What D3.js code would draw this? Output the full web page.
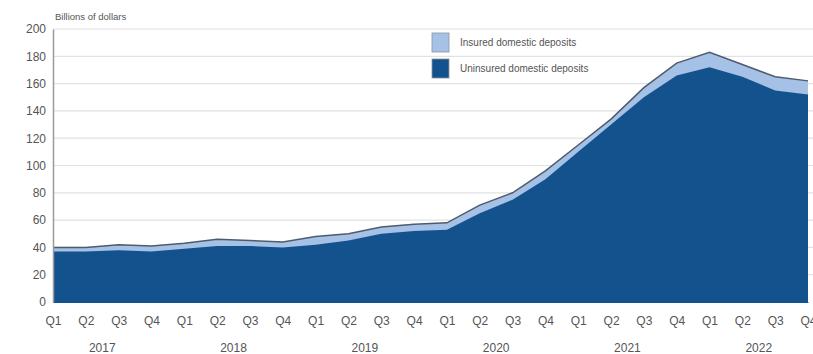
<!DOCTYPE html>
<html>
<head>
<meta charset="utf-8">
<script src="https://cdn.jsdelivr.net/npm/d3@7"></script>
<style>
  body { margin: 0; background: #fff; }
  text { font-family: "Liberation Sans", Arial, sans-serif; fill: #555; }
</style>
</head>
<body>
<svg id="chart" width="813" height="354"></svg>
<script>
// quarters 2017 Q1 .. 2022 Q4
var quarters = ["Q1","Q2","Q3","Q4"]
var years = ["2017","2018","2019","2020","2021","2022"]

// billions of dollars
var uninsured = [37, 37, 38, 37, 39, 41, 41, 40, 42, 45, 50, 52,
                 53, 65, 75, 90, 110, 130, 150, 166, 172, 165, 155, 152]
var total     = [40, 40, 42, 41, 43, 46, 45, 44, 48, 50, 55, 57,
                 58, 71, 80, 96, 115, 134, 157, 175, 183, 174, 165, 162]

var yTicks = [0, 20, 40, 60, 80, 100, 120, 140, 160, 180, 200]

var dimensions = {
    width: 813,
    height: 354,
    margin: { top: 29, bottom: 52, right: 5, left: 53 }
}
dimensions.boundedWidth = dimensions.width - dimensions.margin.right - dimensions.margin.left
dimensions.boundedHeight = dimensions.height - dimensions.margin.top - dimensions.margin.bottom

var dataset = uninsured.map(function (u, i) {
    return { i: i, q: quarters[i % 4], year: years[Math.floor(i / 4)], uninsured: u, total: total[i] }
})

var svg = d3.select("#chart")
var bounds = svg.append("g")
    .attr("transform", "translate(" + dimensions.margin.left + "," + dimensions.margin.top + ")")

var xScale = d3.scaleLinear()
    .domain([0, dataset.length - 1])
    .range([0, dimensions.boundedWidth])

var yScale = d3.scaleLinear()
    .domain([0, 200])
    .range([dimensions.boundedHeight, 0])

// gridlines
bounds.append("g")
    .selectAll("line")
    .data(yTicks.slice(1))
    .enter()
    .append("line")
    .attr("x1", 0)
    .attr("x2", dimensions.boundedWidth + 5)
    .attr("y1", d => yScale(d))
    .attr("y2", d => yScale(d))
    .attr("stroke", "#e2e2e2")
    .attr("stroke-width", 1.2)

// insured (top band) then uninsured on top
var areaTotal = d3.area()
    .x(d => xScale(d.i))
    .y0(yScale(0))
    .y1(d => yScale(d.total))

var areaUninsured = d3.area()
    .x(d => xScale(d.i))
    .y0(yScale(0))
    .y1(d => yScale(d.uninsured))

bounds.append("path")
    .datum(dataset)
    .attr("d", areaTotal)
    .attr("fill", "#a6c1e6")

bounds.append("path")
    .datum(dataset)
    .attr("d", areaUninsured)
    .attr("fill", "#14528e")

bounds.append("path")
    .datum(dataset)
    .attr("d", d3.line().x(d => xScale(d.i)).y(d => yScale(d.total)))
    .attr("fill", "none")
    .attr("stroke", "#4d5b6e")
    .attr("stroke-width", 1.5)

// axes
var yAxis = bounds.append("g")
    .call(d3.axisLeft(yScale).tickValues(yTicks).tickSize(0).tickPadding(7))
yAxis.select(".domain").attr("stroke", "#9a9a9a").attr("stroke-width", 1.5)
yAxis.selectAll("text")
    .style("font-size", "12px")
    .style("fill", "#555")

var xAxis = bounds.append("g")
    .attr("transform", "translate(0," + dimensions.boundedHeight + ")")
    .call(d3.axisBottom(xScale)
        .tickValues(dataset.map(d => d.i))
        .tickFormat(i => quarters[i % 4])
        .tickSize(0)
        .tickPadding(14))
xAxis.select(".domain").attr("stroke", "#14528e")
xAxis.selectAll("text")
    .style("font-size", "12px")
    .style("fill", "#555")

// year labels
bounds.append("g")
    .selectAll("text")
    .data(years)
    .enter()
    .append("text")
    .attr("x", (d, k) => xScale(k * 4 + 1.5))
    .attr("y", dimensions.boundedHeight + 50)
    .attr("text-anchor", "middle")
    .style("font-size", "12px")
    .text(d => d)

// unit label
svg.append("text")
    .attr("x", 55)
    .attr("y", 20)
    .style("font-size", "9.5px")
    .text("Billions of dollars")

// legend
var legendItems = [
    { label: "Insured domestic deposits", color: "#a6c1e6", y: 33 },
    { label: "Uninsured domestic deposits", color: "#14528e", y: 59 }
]
var legend = svg.append("g")
legend.selectAll("rect")
    .data(legendItems)
    .enter()
    .append("rect")
    .attr("x", 432)
    .attr("y", d => d.y)
    .attr("width", 17)
    .attr("height", 19)
    .attr("fill", d => d.color)
    .attr("stroke", "#8a93a0")
    .attr("stroke-width", 0.8)
legend.selectAll("text")
    .data(legendItems)
    .enter()
    .append("text")
    .attr("x", 460)
    .attr("y", d => d.y + 13)
    .style("font-size", "10px")
    .text(d => d.label)
</script>
</body>
</html>
